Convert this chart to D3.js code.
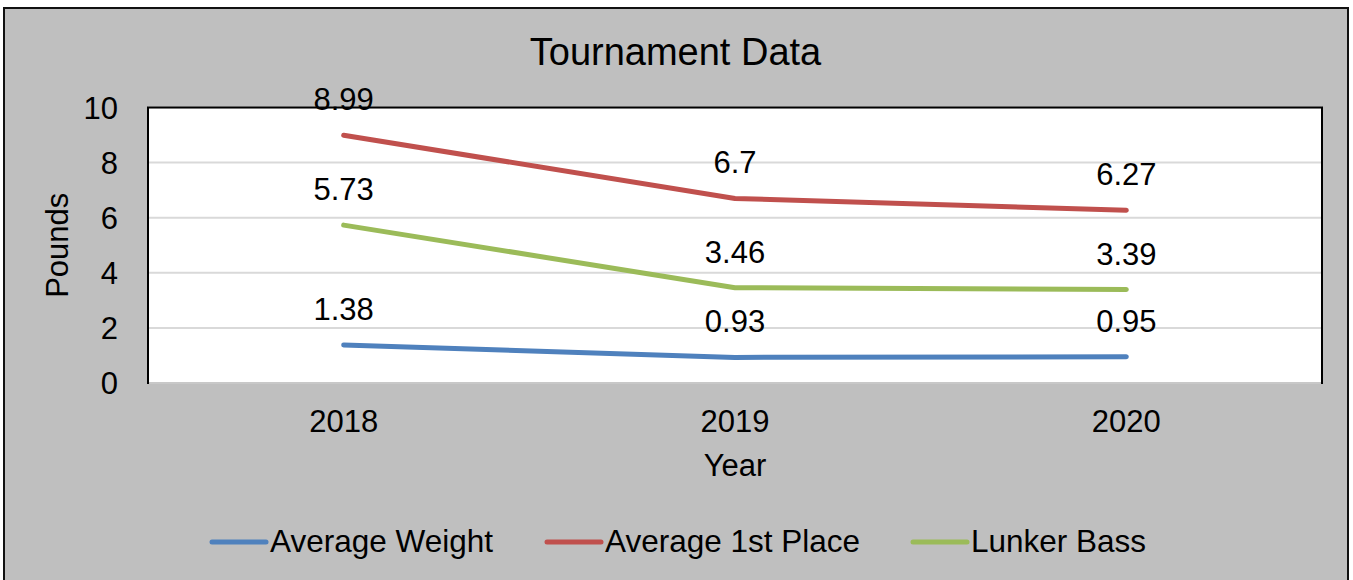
<!DOCTYPE html>
<html>
<head>
<meta charset="utf-8">
<script src="https://cdn.jsdelivr.net/npm/d3@7"></script>
<style>
  body { margin: 0; background: #fff; }
  text { font-family: "Liberation Sans", Arial, sans-serif; fill: #000; }
</style>
</head>
<body>
<div id="container"></div>
<script>
// Data
const years = ["2018", "2019", "2020"];
const averageWeight = [1.38, 0.93, 0.95];
const averageFirst = [8.99, 6.7, 6.27];
const lunkerBass = [5.73, 3.46, 3.39];
const seriesNames = ["Average Weight", "Average 1st Place", "Lunker Bass"];
const seriesColors = ["#4f81bd", "#c0504d", "#9bbb59"];
const yTicks = [0, 2, 4, 6, 8, 10];

//Dimensions
const width = 1353;
const height = 580;
const plot = {left: 148, right: 1322, top: 107.5, bottom: 383};
const fontSize = "31px";

const svg = d3.select("#container")
    .append("svg")
    .attr("width", width)
    .attr("height", height);

//Chart background + border
svg.append("rect")
    .attr("x", 4)
    .attr("y", 8)
    .attr("width", 1344)
    .attr("height", 600)
    .attr("fill", "#bfbfbf")
    .attr("stroke", "#111")
    .attr("stroke-width", 2);

//Scales
const x = d3.scalePoint()
    .domain(years)
    .range([plot.left, plot.right])
    .padding(0.5);

const y = d3.scaleLinear()
    .domain([0, 10])
    .range([plot.bottom, plot.top]);

//Plot area
svg.append("rect")
    .attr("x", plot.left)
    .attr("y", plot.top)
    .attr("width", plot.right - plot.left)
    .attr("height", plot.bottom - plot.top)
    .attr("fill", "#fff");

//Gridlines
svg.append("g")
    .selectAll("line")
    .data(yTicks)
    .join("line")
    .attr("x1", plot.left)
    .attr("x2", plot.right)
    .attr("y1", d => y(d))
    .attr("y2", d => y(d))
    .attr("stroke", d => d === 0 ? "#c8c8c8" : "#d9d9d9")
    .attr("stroke-width", 2);

//Plot border on left, top, right
svg.append("path")
    .attr("d", `M${plot.left},${plot.bottom + 1}V${plot.top}H${plot.right}V${plot.bottom + 1}`)
    .attr("fill", "none")
    .attr("stroke", "#000")
    .attr("stroke-width", 2);

//Y tick labels
svg.append("g")
    .selectAll("text")
    .data(yTicks)
    .join("text")
    .attr("x", 118)
    .attr("y", d => y(d))
    .attr("dy", "0.36em")
    .attr("text-anchor", "end")
    .style("font-size", fontSize)
    .text(d => d);

//X tick labels
svg.append("g")
    .selectAll("text")
    .data(years)
    .join("text")
    .attr("x", d => x(d))
    .attr("y", 432)
    .attr("text-anchor", "middle")
    .style("font-size", fontSize)
    .text(d => d);

//Title and axis titles
svg.append("text")
    .attr("x", 675.5)
    .attr("y", 65)
    .attr("text-anchor", "middle")
    .style("font-size", "38px")
    .text("Tournament Data");

svg.append("text")
    .attr("x", x("2019"))
    .attr("y", 476)
    .attr("text-anchor", "middle")
    .style("font-size", fontSize)
    .text("Year");

svg.append("text")
    .attr("transform", `translate(68, ${(plot.top + plot.bottom) / 2}) rotate(-90)`)
    .attr("text-anchor", "middle")
    .style("font-size", fontSize)
    .text("Pounds");

//Lines + data labels
const series = [averageWeight, averageFirst, lunkerBass];
const line = d3.line()
    .x((d, i) => x(years[i]))
    .y(d => y(d));

series.forEach((values, s) => {
    svg.append("path")
        .datum(values)
        .attr("d", line)
        .attr("fill", "none")
        .attr("stroke", seriesColors[s])
        .attr("stroke-width", 5)
        .attr("stroke-linecap", "round")
        .attr("stroke-linejoin", "round");

    svg.append("g")
        .selectAll("text")
        .data(values)
        .join("text")
        .attr("x", (d, i) => x(years[i]))
        .attr("y", d => y(d) - 25)
        .attr("text-anchor", "middle")
        .style("font-size", fontSize)
        .text(d => d);
});

//Legend
const legendX = [212, 547, 913];
const legend = svg.append("g");
seriesNames.forEach((name, i) => {
    legend.append("line")
        .attr("x1", legendX[i])
        .attr("x2", legendX[i] + 54)
        .attr("y1", 542)
        .attr("y2", 542)
        .attr("stroke", seriesColors[i])
        .attr("stroke-width", 5)
        .attr("stroke-linecap", "round");
    legend.append("text")
        .attr("x", legendX[i] + 58)
        .attr("y", 552)
        .style("font-size", "31.5px")
        .text(name);
});
</script>
</body>
</html>
